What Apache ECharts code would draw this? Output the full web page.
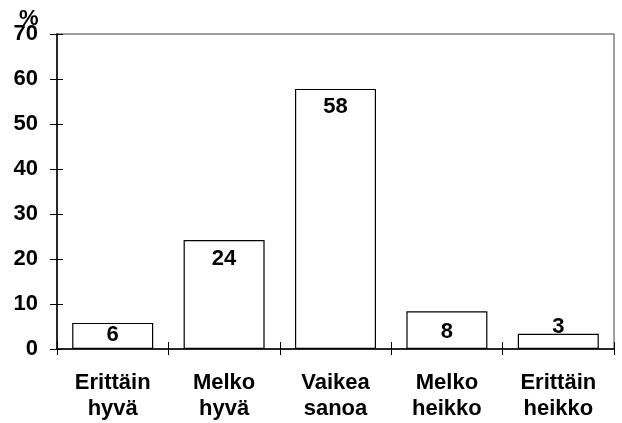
<!DOCTYPE html>
<html>
<head>
<meta charset="utf-8">
<script src="https://cdn.jsdelivr.net/npm/echarts@6/dist/echarts.min.js"></script>
<style>
  html, body { margin: 0; padding: 0; background: #fff; }
  #main { width: 622px; height: 423px; }
</style>
</head>
<body>
<div id="main"></div>
<script>
const categories = ['Erittäin\nhyvä', 'Melko\nhyvä', 'Vaikea\nsanoa', 'Melko\nheikko', 'Erittäin\nheikko'];
const shares = [5.8, 24.2, 57.8, 8.4, 3.4];      // bar heights
const shareLabels = [6, 24, 58, 8, 3];           // printed labels
const yTicks = [0, 10, 20, 30, 40, 50, 60, 70];

const myChart = echarts.init(document.getElementById('main'), null, { renderer: 'canvas' });

const font = 'Liberation Sans, Arial, sans-serif';
const labelNudge = [-6, 0, 0, 2, -25];

const myGrid = {
  left: 57,
  right: 8,
  top: 34,
  bottom: 74,
  show: true,
  borderColor: '#808080',
  borderWidth: 1.5,
  backgroundColor: '#fff'
};

// axis 0 carries line + labels, axis 1 only the crossing ticks (shifted inward)
const myXAxis = [
  {
    type: 'category',
    data: categories,
    position: 'bottom',
    axisLine: { lineStyle: { color: '#000', width: 1.5 } },
    axisTick: { show: false },
    axisLabel: {
      color: '#000', fontFamily: font, fontWeight: 'bold', fontSize: 22,
      lineHeight: 26, margin: 21, interval: 0
    }
  },
  {
    type: 'category',
    data: categories,
    position: 'bottom',
    offset: -7,
    axisLine: { show: false },
    axisTick: { show: true, length: 13, lineStyle: { color: '#000' } },
    axisLabel: { show: false }
  }
];

const myYAxis = [
  {
    type: 'value',
    position: 'left',
    min: yTicks[0],
    max: yTicks[yTicks.length - 1],
    interval: 10,
    splitLine: { show: false },
    axisLine: { show: true, lineStyle: { color: '#000', width: 1.5 } },
    axisTick: { show: false },
    axisLabel: { color: '#000', fontFamily: font, fontWeight: 'bold', fontSize: 22, margin: 19 }
  },
  {
    type: 'value',
    position: 'left',
    offset: -6,
    min: yTicks[0],
    max: yTicks[yTicks.length - 1],
    interval: 10,
    splitLine: { show: false },
    axisLine: { show: false },
    axisTick: { show: true, length: 13, lineStyle: { color: '#000' } },
    axisLabel: { show: false }
  }
];

const mySeries = [
  {
    name: '%',
    type: 'bar',
    barWidth: 81,
    data: shares.map((v, i) => ({
      value: v,
      label: { offset: [0, labelNudge[i]] }
    })),
    itemStyle: { color: '#fff', borderColor: '#000', borderWidth: 1.2 },
    label: {
      show: true,
      position: 'insideTop',
      distance: 8,
      color: '#000',
      fontFamily: font,
      fontWeight: 'bold',
      fontSize: 22,
      lineHeight: 21,
      formatter: p => String(shareLabels[p.dataIndex])
    },
    z: 3
  }
];

myChart.setOption({
  animation: false,
  title: {
    show: true,
    text: '%',
    left: 14,
    top: 3,
    textStyle: { color: '#000', fontFamily: font, fontWeight: 'bold', fontSize: 22 }
  },
  grid: myGrid,
  xAxis: myXAxis,
  yAxis: myYAxis,
  series: mySeries
});
</script>
</body>
</html>
